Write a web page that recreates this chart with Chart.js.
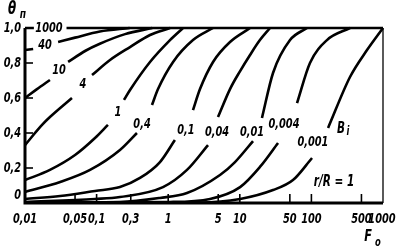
<!DOCTYPE html>
<html>
<head>
<meta charset="utf-8">
<script src="https://cdn.jsdelivr.net/npm/chart.js@4.4.1/dist/chart.umd.min.js"></script>
<style>
  html, body { margin: 0; padding: 0; background: #fff; }
  #chart { display: block; }
</style>
</head>
<body>
<canvas id="chart" width="397" height="250"></canvas>
<script>
// axis ticks
const foTicks = [0.01, 0.05, 0.1, 0.3, 1, 5, 10, 50, 100, 500, 1000];
const foTickLabels = ['0,01', '0,05', '0,1', '0,3', '1', '5', '10', '50', '100', '500', '1000'];
const thetaTicks = [0, 0.2, 0.4, 0.6, 0.8, 1.0];
const thetaTickLabels = ['0', '0,2', '0,4', '0,6', '0,8', '1,0'];

// Bi of each curve, and where its number is written (Fo, theta)
const biValues = ['1000', '40', '10', '4', '1', '0,4', '0,1', '0,04', '0,01', '0,004', '0,001'];
const biLabelAt = [[0.0216, 1.0], [0.019, 0.903], [0.0299, 0.76], [0.0646, 0.68], [0.199, 0.52],
  [0.431, 0.451], [1.77, 0.417], [4.8, 0.406], [14.8, 0.406], [41.4, 0.451], [105, 0.349]];

// [Fo, theta]; null = break where the label sits
const bi1000 = [[0.01, 1], [0.0133, 1], [0.02, null], [0.038, 1], [1000, 1]];
const bi40 = [[0.01, 0.874], [0.013, 0.88], [0.019, null], [0.029, 0.92], [0.05, 0.945], [0.111, 0.98], [0.29, 1.0]];
const bi10 = [[0.01, 0.6], [0.0147, 0.651], [0.0223, 0.703], [0.03, null], [0.04, 0.806], [0.07, 0.87],
  [0.111, 0.91], [0.25, 0.965], [0.6, 1.0]];
const bi4 = [[0.01, 0.331], [0.0173, 0.446], [0.0223, 0.491], [0.0453, 0.6], [0.065, null], [0.0863, 0.731],
  [0.154, 0.817], [0.293, 0.891], [0.557, 0.96], [1.06, 1.0]];
const bi1 = [[0.01, 0.131], [0.0223, 0.189], [0.05, 0.274], [0.095, 0.371], [0.144, 0.446], [0.19, null],
  [0.241, 0.589], [0.293, 0.646], [0.557, 0.806], [1.06, 0.931], [1.61, 1.0]];
const bi0_4 = [[0.01, 0.063], [0.031, 0.12], [0.081, 0.189], [0.212, 0.303], [0.366, 0.4], [0.45, null],
  [0.594, 0.56], [0.721, 0.651], [1.17, 0.806], [2.22, 0.931], [4.23, 1.0]];
const bi0_1 = [[0.01, 0.023], [0.031, 0.04], [0.095, 0.069], [0.212, 0.091], [0.404, 0.143], [0.768, 0.234],
  [1.24, 0.36], [1.7, null], [2.22, 0.531], [2.78, 0.651], [4.23, 0.806], [7.3, 0.92], [13.9, 1.0]];
const bi0_04 = [[0.01, 0.006], [0.095, 0.023], [0.212, 0.034], [0.846, 0.091], [1.83, 0.189], [3.6, 0.331],
  [4.3, null], [4.96, 0.491], [7.3, 0.651], [10.1, 0.754], [13.9, 0.846], [19.1, 0.931], [26.4, 1.0]];
const bi0_01 = [[0.01, 0.003], [0.212, 0.006], [0.768, 0.029], [1.83, 0.057], [5.29, 0.16], [8.57, 0.234],
  [15.3, 0.354], [18, null], [20.4, 0.486], [29.1, 0.743], [50.3, 0.931], [86.8, 1.0]];
const bi0_004 = [[0.01, 0.003], [1.06, 0.006], [3.84, 0.023], [10.1, 0.091], [19.1, 0.206], [34.2, 0.343],
  [45, null], [63, 0.571], [95.5, 0.8], [165, 0.931], [346, 1.0]];
const bi0_001 = [[0.01, 0.002], [2.78, 0.003], [10.1, 0.023], [29.1, 0.074], [55.3, 0.131], [102, 0.257],
  [130, null], [171, 0.429], [346, 0.72], [598, 0.874], [1000, 1.0]];

const curves = [bi1000, bi40, bi10, bi4, bi1, bi0_4, bi0_1, bi0_04, bi0_01, bi0_004, bi0_001];

const FONT = '"DejaVu Sans", "Liberation Sans", sans-serif';

// narrow italic lettering, like the drafting type of the original
function drawText(ctx, str, px, py, size, align) {
  ctx.save();
  ctx.translate(px, py);
  ctx.scale(0.7, 1);
  ctx.font = 'italic bold ' + size + 'px ' + FONT;
  ctx.textAlign = align || 'center';
  ctx.textBaseline = 'middle';
  ctx.fillText(str, 0, 0);
  ctx.restore();
}

const axesPlugin = {
  id: 'axes',
  afterDraw(chart) {
    const ctx = chart.ctx;
    const a = chart.chartArea;
    const x = chart.scales.x;
    const y = chart.scales.y;
    ctx.save();
    ctx.strokeStyle = '#000';
    ctx.fillStyle = '#000';

    // left and bottom axes
    ctx.lineWidth = 3;
    ctx.beginPath();
    ctx.moveTo(a.left, a.top);
    ctx.lineTo(a.left, a.bottom);
    ctx.lineTo(a.right, a.bottom);
    ctx.stroke();

    // thin right border
    ctx.lineWidth = 1.3;
    ctx.beginPath();
    ctx.moveTo(a.right, a.top);
    ctx.lineTo(a.right, a.bottom);
    ctx.stroke();

    // inward tick marks
    ctx.lineWidth = 1.6;
    foTicks.forEach(v => {
      if (v === foTicks[0] || v === foTicks[foTicks.length - 1]) return;
      const px = x.getPixelForValue(v);
      ctx.beginPath();
      ctx.moveTo(px, a.bottom);
      ctx.lineTo(px, a.bottom - 9);
      ctx.stroke();
    });
    thetaTicks.forEach(v => {
      if (v === 0 || v === 1) return;
      const py = y.getPixelForValue(v);
      ctx.beginPath();
      ctx.moveTo(a.left, py);
      ctx.lineTo(a.left + 8, py);
      ctx.stroke();
    });

    // tick labels
    foTicks.forEach((v, i) => {
      let px = x.getPixelForValue(v);
      const w = foTickLabels[i].length * 6;
      if (px + w / 2 > chart.width - 3) px = chart.width - 3 - w / 2;
      drawText(ctx, foTickLabels[i], px, a.bottom + 16, 14);
    });
    thetaTicks.forEach((v, i) => {
      const py = y.getPixelForValue(v) - (v === 0 ? 8 : 0);
      drawText(ctx, thetaTickLabels[i], 21, py, 14, 'right');
    });

    // curve numbers
    biLabelAt.forEach((p, i) => {
      drawText(ctx, biValues[i], x.getPixelForValue(p[0]), y.getPixelForValue(p[1]), 14);
    });
    // Bi and r/R captions
    drawText(ctx, 'B', x.getPixelForValue(276) - 2, y.getPixelForValue(0.423), 15);
    drawText(ctx, 'i', x.getPixelForValue(276) + 5, y.getPixelForValue(0.423) + 3, 12);
    drawText(ctx, 'r/R = 1', x.getPixelForValue(207), y.getPixelForValue(0.12), 15);

    // axis titles
    drawText(ctx, 'θ', 12, 10, 17);
    drawText(ctx, 'п', 23, 15, 13);
    drawText(ctx, 'F', 368, 237, 16);
    drawText(ctx, 'o', 378, 243, 12);
    ctx.restore();
  }
};

const datasets = curves.map((pts, i) => ({
  label: 'Bi = ' + biValues[i],
  data: pts.map(p => ({ x: p[0], y: p[1] })),
  borderColor: '#000',
  borderWidth: 2.6,
  pointRadius: 0,
  fill: false,
  cubicInterpolationMode: 'monotone',
  spanGaps: false,
  clip: false
}));

new Chart(document.getElementById('chart'), {
  type: 'line',
  data: { datasets: datasets },
  options: {
    responsive: false,
    animation: false,
    devicePixelRatio: 1,
    layout: { padding: { left: 25, right: 14, top: 28, bottom: 47 } },
    plugins: { legend: { display: false }, tooltip: { enabled: false } },
    scales: {
      x: { type: 'logarithmic', min: 0.01, max: 1000, display: false },
      y: { type: 'linear', min: 0, max: 1, display: false }
    }
  },
  plugins: [axesPlugin]
});
</script>
</body>
</html>
